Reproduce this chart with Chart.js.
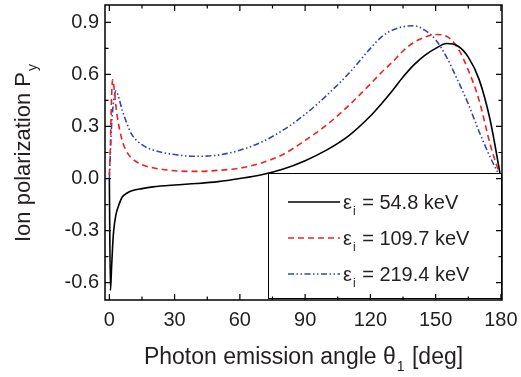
<!DOCTYPE html>
<html>
<head>
<meta charset="utf-8">
<script src="https://cdn.jsdelivr.net/npm/chart.js@4.4.0/dist/chart.umd.min.js"></script>
<style>
  body { margin: 0; background: #fff; }
  #wrap { width: 521px; height: 377px; }
</style>
</head>
<body>
<div id="wrap"><canvas id="c" width="521" height="377"></canvas></div>
<script>
// photon emission angle (deg)
const angles = [0, 0.5, 1, 1.5, 2, 3, 4, 6, 8, 10, 15, 20, 30, 40, 50, 60, 70, 80, 90, 100,
  110, 120, 125, 130, 135, 140, 145, 150, 155, 160, 165, 170, 175, 180];
// ion polarization P_y per ion energy
const pol548 = [0.0, -0.645, -0.52, -0.39, -0.3, -0.21, -0.165, -0.105, -0.085, -0.072, -0.058, -0.048, -0.037, -0.029, -0.018, 0.0, 0.022, 0.055, 0.103, 0.165,
  0.246, 0.36, 0.43, 0.505, 0.585, 0.655, 0.71, 0.75, 0.778, 0.765, 0.70, 0.57, 0.34, 0.0];
const pol1097 = [0.02, 0.2, 0.46, 0.57, 0.54, 0.42, 0.33, 0.215, 0.155, 0.12, 0.08, 0.062, 0.045, 0.041, 0.047, 0.06, 0.09, 0.14, 0.22, 0.31,
  0.42, 0.545, 0.61, 0.67, 0.735, 0.785, 0.815, 0.83, 0.82, 0.755, 0.625, 0.45, 0.2, 0.0];
const pol2194 = [0.0, 0.15, 0.3, 0.39, 0.45, 0.505, 0.48, 0.39, 0.32, 0.26, 0.195, 0.165, 0.138, 0.128, 0.135, 0.163, 0.21, 0.28, 0.37, 0.48,
  0.605, 0.75, 0.815, 0.855, 0.875, 0.88, 0.855, 0.8, 0.7, 0.57, 0.43, 0.27, 0.125, 0.0];
const energyLabels = ['54.8 keV', '109.7 keV', '219.4 keV'];
const xTicks = [0, 30, 60, 90, 120, 150, 180];
const yTicks = [-0.6, -0.3, 0.0, 0.3, 0.6, 0.9];

const FONT = '"Liberation Sans", Arial, sans-serif';
const TXT = '#231f20';

function pts(ys) {
  return angles.map((a, i) => ({ x: a, y: ys[i] }));
}

// text with a subscript: main, sub, rest
function subText(ctx, x, y, main, sub, rest, size) {
  ctx.font = size + 'px ' + FONT;
  ctx.fillText(main, x, y);
  let w = ctx.measureText(main).width;
  ctx.font = Math.round(size * 0.62) + 'px ' + FONT;
  ctx.fillText(sub, x + w + 1, y + size * 0.3);
  let w2 = ctx.measureText(sub).width;
  ctx.font = size + 'px ' + FONT;
  ctx.fillText(rest, x + w + w2 + 2, y);
}
function subWidth(ctx, main, sub, rest, size) {
  ctx.font = size + 'px ' + FONT;
  let w = ctx.measureText(main).width + ctx.measureText(rest).width;
  ctx.font = Math.round(size * 0.62) + 'px ' + FONT;
  return w + ctx.measureText(sub).width + 2;
}

function noPad(s) {
  s.paddingTop = 0; s.paddingBottom = 0; s.paddingLeft = 0; s.paddingRight = 0;
}

const extras = {
  id: 'extras',
  afterDatasetsDraw(chart) {
    const ctx = chart.ctx;
    const a = chart.chartArea;
    // legend box
    const bx = a.right - 234, by = a.bottom - 127, bw = 233, bh = 125;
    ctx.save();
    ctx.fillStyle = '#fff';
    ctx.fillRect(bx, by, bw, bh);
    ctx.strokeStyle = '#000';
    ctx.lineWidth = 1;
    ctx.strokeRect(bx + 0.5, by + 0.5, bw, bh);
    chart.data.datasets.forEach((ds, i) => {
      const yy = by + 29 + i * 36;
      ctx.strokeStyle = ds.borderColor;
      ctx.lineWidth = ds.borderWidth;
      ctx.setLineDash(ds.borderDash || []);
      ctx.beginPath();
      ctx.moveTo(bx + 20, yy);
      ctx.lineTo(bx + 72, yy);
      ctx.stroke();
      ctx.setLineDash([]);
      ctx.fillStyle = TXT;
      ctx.textBaseline = 'alphabetic';
      ctx.textAlign = 'left';
      subText(ctx, bx + 75, yy + 7, '\u03b5', 'i', ' = ' + energyLabels[i], 20);
    });
    ctx.restore();
  },
  afterDraw(chart) {
    const ctx = chart.ctx;
    const a = chart.chartArea;
    const xs = chart.scales.x, ys = chart.scales.y;
    ctx.save();
    ctx.strokeStyle = '#000';
    ctx.lineWidth = 1.5;
    ctx.strokeRect(a.left, a.top, a.right - a.left, a.bottom - a.top);
    ctx.lineWidth = 1.2;
    ctx.beginPath();
    for (let v = 0; v <= 180; v += 15) {
      const p = xs.getPixelForValue(v);
      const L = v % 30 === 0 ? 6 : 3.5;
      ctx.moveTo(p, a.bottom); ctx.lineTo(p, a.bottom - L);
      ctx.moveTo(p, a.top); ctx.lineTo(p, a.top + L);
    }
    for (let k = -4; k <= 6; k++) {
      const v = k * 0.15;
      const p = ys.getPixelForValue(v);
      const L = k % 2 === 0 ? 6 : 3.5;
      ctx.moveTo(a.left, p); ctx.lineTo(a.left + L, p);
      ctx.moveTo(a.right, p); ctx.lineTo(a.right - L, p);
    }
    ctx.stroke();
    // axis titles
    ctx.fillStyle = TXT;
    ctx.textAlign = 'left';
    ctx.textBaseline = 'alphabetic';
    const xw = subWidth(ctx, 'Photon emission angle \u03b8', '1', ' [deg]', 23);
    subText(ctx, (a.left + a.right) / 2 - xw / 2, 364, 'Photon emission angle \u03b8', '1', ' [deg]', 23);
    ctx.translate(30, (a.top + a.bottom) / 2);
    ctx.rotate(-Math.PI / 2);
    const yw = subWidth(ctx, 'Ion polarization P', 'y', '', 22);
    subText(ctx, -yw / 2, 0, 'Ion polarization P', 'y', '', 22);
    ctx.restore();
  }
};

new Chart(document.getElementById('c'), {
  type: 'line',
  data: {
    datasets: [
      { label: energyLabels[0], data: pts(pol548), borderColor: '#000000', borderWidth: 1.6 },
      { label: energyLabels[1], data: pts(pol1097), borderColor: '#ee2222', borderWidth: 1.6, borderDash: [6, 4] },
      { label: energyLabels[2], data: pts(pol2194), borderColor: '#3347b0', borderWidth: 1.6, borderDash: [6, 2.5, 1.5, 2.5, 1.5, 2.5] }
    ]
  },
  options: {
    responsive: false,
    animation: false,
    layout: { padding: { top: 5, right: 19, left: 0, bottom: 0 } },
    elements: { point: { radius: 0 }, line: { cubicInterpolationMode: 'monotone' } },
    plugins: { legend: { display: false }, tooltip: { enabled: false } },
    scales: {
      x: {
        type: 'linear', min: -2, max: 180.5,
        grid: { display: false, drawTicks: false },
        border: { display: false },
        afterBuildTicks: s => { s.ticks = xTicks.map(v => ({ value: v })); },
        afterFit: s => { s.height = 77; noPad(s); },
        ticks: { padding: 8, color: TXT, font: { family: FONT, size: 20 }, maxRotation: 0 }
      },
      y: {
        min: -0.7, max: 1.0,
        grid: { display: false, drawTicks: false },
        border: { display: false },
        afterBuildTicks: s => { s.ticks = yTicks.map(v => ({ value: v })); },
        afterFit: s => { s.width = 105; noPad(s); },
        ticks: { padding: 6, color: TXT, font: { family: FONT, size: 20 }, callback: v => v.toFixed(1) }
      }
    }
  },
  plugins: [extras]
});
</script>
</body>
</html>
